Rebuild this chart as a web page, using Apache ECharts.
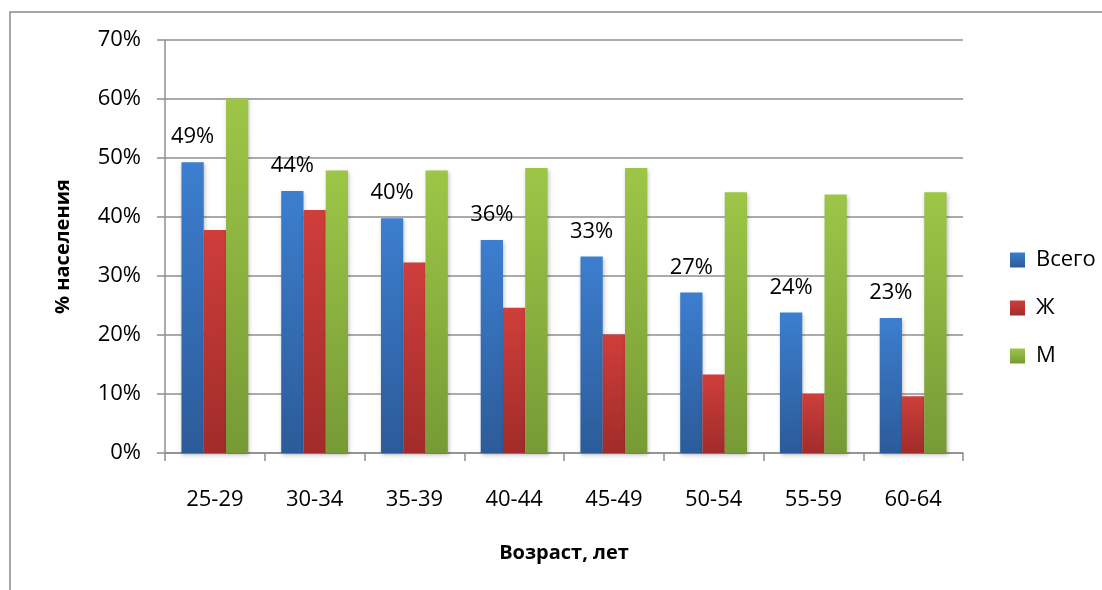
<!DOCTYPE html>
<html>
<head>
<meta charset="utf-8">
<script src="https://cdn.jsdelivr.net/npm/echarts@6/dist/echarts.min.js"></script>
<style>
  html, body { margin: 0; padding: 0; background: #fff; }
  #chart { width: 1102px; height: 590px; }
</style>
</head>
<body>
<div id="chart"></div>
<script>
// Age groups and shares of population (%)
const categories = ['25-29', '30-34', '35-39', '40-44', '45-49', '50-54', '55-59', '60-64'];
const totalValues = [49.3, 44.4, 39.8, 36.1, 33.3, 27.2, 23.8, 22.9];
const femaleValues = [37.8, 41.2, 32.3, 24.6, 20.1, 13.3, 10.0, 9.6];
const maleValues = [60.1, 47.9, 47.9, 48.3, 48.3, 44.2, 43.8, 44.2];
const yTicks = [0, 10, 20, 30, 40, 50, 60, 70];

const FONT = '"Open Sans", "DejaVu Sans", sans-serif';

function vGrad(top, bottom) {
  return new echarts.graphic.LinearGradient(0, 0, 0, 1, [
    { offset: 0, color: top },
    { offset: 1, color: bottom }
  ]);
}

const barShadow = {
  shadowBlur: 4,
  shadowColor: 'rgba(0,0,0,0.25)',
  shadowOffsetX: 1,
  shadowOffsetY: 2
};

const chart = echarts.init(document.getElementById('chart'), null, { renderer: 'canvas' });

chart.setOption({
  animation: false,
  backgroundColor: '#ffffff',
  textStyle: { fontFamily: FONT },
  graphic: [{
    type: 'rect',
    shape: { x: 10, y: 12, width: 1200, height: 700 },
    style: { fill: 'none', stroke: '#8a8a8a', lineWidth: 1.5 },
    silent: true
  }],
  grid: { left: 165, right: 139, top: 40, bottom: 137, containLabel: false },
  legend: {
    orient: 'vertical',
    left: 1005,
    top: 244,
    itemWidth: 15,
    itemHeight: 15,
    itemGap: 26,
    icon: 'rect',
    textStyle: { fontFamily: FONT, fontSize: 22, color: '#000', padding: [0, 0, 0, 6] },
    data: ['Всего', 'Ж', 'М']
  },
  xAxis: {
    type: 'category',
    data: categories,
    name: 'Возраст, лет',
    nameLocation: 'middle',
    nameGap: 90,
    nameTextStyle: { fontFamily: FONT, fontSize: 20, fontWeight: 'bold', color: '#000' },
    axisLine: { show: true, lineStyle: { color: '#8f8f8f', width: 1.5 } },
    axisTick: { show: true, length: 8, lineStyle: { color: '#8f8f8f', width: 1.5 } },
    axisLabel: { fontFamily: FONT, fontSize: 22, color: '#000', margin: 36 }
  },
  yAxis: {
    type: 'value',
    min: yTicks[0],
    max: yTicks[yTicks.length - 1],
    interval: 10,
    name: '% населения',
    nameLocation: 'middle',
    nameGap: 92,
    nameRotate: 90,
    nameTextStyle: { fontFamily: FONT, fontSize: 20, fontWeight: 'bold', color: '#000' },
    axisLine: { show: true, lineStyle: { color: '#8f8f8f', width: 1.5 } },
    axisTick: { show: true, length: 8, lineStyle: { color: '#8f8f8f', width: 1.5 } },
    axisLabel: { fontFamily: FONT, fontSize: 22, color: '#000', margin: 24, formatter: '{value}%' },
    splitLine: { show: true, lineStyle: { color: '#8f8f8f', width: 1.5 } }
  },
  series: [
    {
      name: 'Всего',
      type: 'bar',
      data: totalValues,
      barGap: '0%',
      barCategoryGap: '33%',
      itemStyle: Object.assign({ color: vGrad('#3c7ecf', '#2c5b99') }, barShadow),
      label: {
        show: true,
        position: 'top',
        distance: 14,
        fontFamily: FONT,
        fontSize: 22,
        color: '#000',
        formatter: p => Math.round(p.value) + '%'
      }
    },
    {
      name: 'Ж',
      type: 'bar',
      data: femaleValues,
      barGap: '0%',
      barCategoryGap: '33%',
      itemStyle: Object.assign({ color: vGrad('#ce3e3b', '#a12c2a') }, barShadow)
    },
    {
      name: 'М',
      type: 'bar',
      data: maleValues,
      barGap: '0%',
      barCategoryGap: '33%',
      itemStyle: Object.assign({ color: vGrad('#9dc647', '#779a36') }, barShadow)
    }
  ]
});
</script>
</body>
</html>
